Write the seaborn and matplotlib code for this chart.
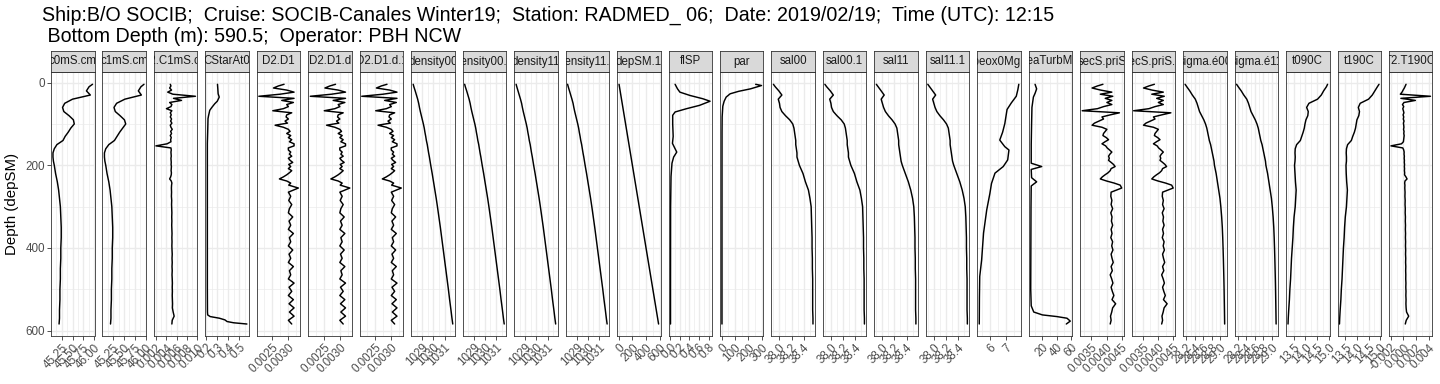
import matplotlib
matplotlib.use("Agg")
import matplotlib.pyplot as plt
import matplotlib.ticker as mticker
import seaborn as sns
import pandas as pd

sns.set_theme(style="white")
plt.rcParams['font.family'] = ['Liberation Sans', 'DejaVu Sans']

# ---------------- data ----------------
depth_s = [4, 10, 20, 30, 40, 50, 60, 70, 80, 90, 100, 110, 120, 130, 140, 150, 160, 170, 180, 190,
           200, 220, 240, 260, 280, 300, 325, 350, 375, 400, 425, 450, 475, 500, 525, 550, 570, 584]

depth_n = [4, 8, 13, 18, 23, 28, 33, 38, 43, 48,
           53, 58, 63, 68, 73, 78, 83, 88, 93, 98,
           103, 108, 113, 118, 123, 128, 133, 138, 143, 148,
           153, 158, 163, 168, 173, 178, 183, 188, 193, 198,
           203, 208, 213, 218, 223, 228, 233, 238, 243, 248,
           255, 265, 275, 285, 295, 305, 315, 325, 335, 345,
           355, 365, 375, 385, 395, 405, 415, 425, 435, 445,
           455, 465, 475, 485, 495, 505, 515, 525, 535, 545,
           555, 565, 575, 584]

c0mS = [45.96, 45.88, 45.82, 45.91, 45.50, 45.32, 45.27, 45.30, 45.42, 45.52,
        45.54, 45.46, 45.40, 45.33, 45.28, 45.14, 45.08, 45.05, 45.05, 45.06,
        45.08, 45.11, 45.15, 45.18, 45.20, 45.22, 45.23, 45.24, 45.24, 45.23,
        45.23, 45.22, 45.22, 45.21, 45.21, 45.20, 45.20, 45.19]
c1mS = [45.96, 45.89, 45.83, 45.90, 45.52, 45.33, 45.27, 45.30, 45.41, 45.51,
        45.54, 45.47, 45.40, 45.34, 45.28, 45.15, 45.08, 45.05, 45.05, 45.06,
        45.08, 45.11, 45.15, 45.18, 45.20, 45.22, 45.23, 45.24, 45.24, 45.23,
        45.23, 45.22, 45.22, 45.21, 45.21, 45.20, 45.20, 45.19]

c2c1 = [0.00478, 0.00491, 0.00466, 0.00503, 0.00429, 0.00528, 0.00965, 0.00540, 0.00695, 0.00466,
        0.00509, 0.00491, 0.00404, 0.00509, 0.00478, 0.00497, 0.00478, 0.00503, 0.00485, 0.00509,
        0.00478, 0.00491, 0.00516, 0.00485, 0.00503, 0.00478, 0.00497, 0.00485, 0.00491, 0.00417,
        0.00200, 0.00491, 0.00497, 0.00491, 0.00494, 0.00497, 0.00491, 0.00494, 0.00497, 0.00494,
        0.00500, 0.00497, 0.00494, 0.00500, 0.00497, 0.00485, 0.00466, 0.00497, 0.00509, 0.00503,
        0.00500, 0.00503, 0.00500, 0.00506, 0.00503, 0.00506, 0.00509, 0.00506, 0.00509, 0.00506,
        0.00509, 0.00512, 0.00509, 0.00512, 0.00509, 0.00512, 0.00516, 0.00512, 0.00516, 0.00512,
        0.00516, 0.00512, 0.00516, 0.00519, 0.00516, 0.00519, 0.00516, 0.00519, 0.00522, 0.00519,
        0.00534, 0.00553, 0.00516, 0.00509]

depth_cs = [4, 15, 27, 35, 45, 51, 60, 67, 80, 87, 120, 147, 200, 300, 400, 500,
            555, 562, 566, 570, 574, 578, 581, 584]
cstar = [0.302, 0.305, 0.308, 0.318, 0.300, 0.277, 0.250, 0.231, 0.220, 0.215, 0.212, 0.209,
         0.209, 0.209, 0.209, 0.209, 0.210, 0.212, 0.235, 0.320, 0.370, 0.390, 0.450, 0.572]

d2d1 = [0.002867, 0.002690, 0.002534, 0.002950, 0.003180, 0.002742, 0.002075, 0.003180, 0.002794, 0.003159,
        0.002950, 0.003002, 0.002846, 0.002513, 0.003107, 0.002950, 0.002930, 0.003002, 0.002898, 0.002971,
        0.002586, 0.002846, 0.003002, 0.003055, 0.002950, 0.003075, 0.003002, 0.003107, 0.003034, 0.003180,
        0.003180, 0.003000, 0.003002, 0.003075, 0.003034, 0.003107, 0.003002, 0.003055, 0.003138, 0.003013,
        0.003075, 0.003002, 0.003107, 0.003034, 0.002950, 0.002846, 0.002721, 0.002950, 0.003075, 0.003013,
        0.003315, 0.003002, 0.003075, 0.003013, 0.003107, 0.003034, 0.003002, 0.003138, 0.003023, 0.003075,
        0.003002, 0.003159, 0.003034, 0.003075, 0.003002, 0.003138, 0.003023, 0.003075, 0.003002, 0.003159,
        0.003034, 0.003075, 0.003002, 0.003180, 0.003023, 0.003107, 0.003002, 0.003159, 0.003023, 0.003180,
        0.003034, 0.003180, 0.003002, 0.003107]

density00 = [1028.19, 1028.25, 1028.37, 1028.48, 1028.59, 1028.68, 1028.75, 1028.83, 1028.92, 1029.01,
             1029.10, 1029.18, 1029.24, 1029.31, 1029.37, 1029.45, 1029.51, 1029.57, 1029.64, 1029.70,
             1029.76, 1029.89, 1030.01, 1030.13, 1030.25, 1030.36, 1030.49, 1030.62, 1030.74, 1030.86,
             1030.98, 1031.10, 1031.22, 1031.34, 1031.45, 1031.57, 1031.66, 1031.73]
density11 = [1028.19, 1028.25, 1028.36, 1028.47, 1028.58, 1028.68, 1028.75, 1028.83, 1028.92, 1029.01,
             1029.10, 1029.18, 1029.24, 1029.31, 1029.37, 1029.45, 1029.51, 1029.57, 1029.64, 1029.70,
             1029.76, 1029.89, 1030.01, 1030.13, 1030.25, 1030.36, 1030.49, 1030.62, 1030.74, 1030.86,
             1030.98, 1031.10, 1031.22, 1031.34, 1031.45, 1031.57, 1031.66, 1031.73]

depsm = [4, 10, 20, 30, 40, 50, 60, 70, 80, 90, 100, 110, 120, 130, 140, 150, 160, 170, 180, 190,
         200, 220, 240, 260, 280, 300, 325, 350, 375, 400, 425, 450, 475, 500, 525, 550, 570, 584]

depth_fl = [4, 15, 23, 31, 39, 45, 55, 63, 71, 79, 100, 130, 147, 160, 168, 180, 195, 227, 300, 400, 500, 584]
flsp = [0.10, 0.15, 0.20, 0.41, 0.68, 0.83, 0.61, 0.34, 0.10, 0.05,
        0.05, 0.06, 0.045, 0.10, 0.135, 0.07, 0.035, 0.015, 0.006, 0.005, 0.004, 0.004]

depth_par = [4, 7, 15, 21, 27, 35, 45, 57, 83, 120, 200, 300, 400, 500, 584]
par = [254, 298, 216, 127, 63, 33, 18, 8, 3, 2, 1.8, 1.7, 1.6, 1.6, 1.6]

sal00 = [37.90, 37.93, 37.99, 38.04, 37.98, 38.00, 38.01, 38.04, 38.10, 38.17,
         38.22, 38.24, 38.25, 38.26, 38.27, 38.27, 38.28, 38.29, 38.29, 38.31,
         38.33, 38.39, 38.43, 38.48, 38.505, 38.525, 38.53, 38.535, 38.54, 38.54,
         38.545, 38.545, 38.55, 38.55, 38.55, 38.55, 38.555, 38.555]
sal11 = [37.90, 37.93, 37.98, 38.03, 37.98, 38.00, 38.02, 38.05, 38.10, 38.16,
         38.21, 38.24, 38.25, 38.26, 38.27, 38.27, 38.28, 38.29, 38.30, 38.31,
         38.33, 38.38, 38.43, 38.47, 38.50, 38.52, 38.53, 38.535, 38.54, 38.54,
         38.545, 38.545, 38.55, 38.55, 38.55, 38.55, 38.555, 38.555]

depth_ox = [4, 17, 33, 49, 65, 99, 120, 139, 155, 163, 187, 203, 219, 244, 268, 308, 364, 429, 469, 520, 584]
sbeox = [7.82, 7.76, 7.66, 7.35, 7.08, 6.94, 6.80, 6.62, 6.94, 7.20, 7.12,
         6.84, 6.32, 6.10, 6.00, 5.80, 5.60, 5.48, 5.36, 5.34, 5.33]

depth_tb = [4, 15, 25, 35, 60, 100, 150, 195, 203, 210, 230, 240, 250, 300, 400, 500,
            540, 555, 562, 566, 570, 577, 584]
turb = [9.8, 12.0, 10.0, 7.5, 5.5, 5.0, 4.5, 4.5, 19.0, 4.5, 5.0, 12.0, 4.5, 4.2, 4.0, 3.8,
        4.5, 8.0, 20.0, 40.0, 54.0, 58.5, 53.0]

secs = [0.003880, 0.003700, 0.003521, 0.003800, 0.004174, 0.003793, 0.004206, 0.003956, 0.004174, 0.004011,
        0.004174, 0.003902, 0.003700, 0.003195, 0.004424, 0.004120, 0.003848, 0.003900, 0.003750, 0.003600,
        0.003521, 0.003850, 0.004011, 0.003956, 0.003900, 0.003880, 0.003990, 0.004065, 0.003950, 0.003848,
        0.003970, 0.004020, 0.004100, 0.004174, 0.004110, 0.004065, 0.004090, 0.004065, 0.004150, 0.004230,
        0.004282, 0.004150, 0.004119, 0.004050, 0.003950, 0.003860, 0.003793, 0.004000, 0.004250, 0.004450,
        0.004500, 0.004150, 0.004140, 0.004175, 0.004150, 0.004200, 0.004140, 0.004180, 0.004160, 0.004200,
        0.004150, 0.004180, 0.004140, 0.004200, 0.004170, 0.004210, 0.004150, 0.004180, 0.004220, 0.004150,
        0.004190, 0.004120, 0.004170, 0.004210, 0.004150, 0.004190, 0.004240, 0.004180, 0.004300, 0.004200,
        0.004170, 0.004130, 0.004150, 0.004120]

sigma00 = [28.17, 28.21, 28.28, 28.34, 28.41, 28.45, 28.48, 28.51, 28.56, 28.61,
           28.65, 28.68, 28.70, 28.72, 28.74, 28.77, 28.79, 28.81, 28.83, 28.85,
           28.86, 28.90, 28.93, 28.96, 28.99, 29.01, 29.03, 29.045, 29.055, 29.063,
           29.07, 29.076, 29.082, 29.087, 29.091, 29.095, 29.098, 29.10]

t090 = [14.95, 14.90, 14.78, 14.68, 14.52, 14.15, 14.05, 14.12, 14.10, 14.02,
        13.98, 13.95, 13.90, 13.84, 13.78, 13.62, 13.56, 13.55, 13.56, 13.55,
        13.53, 13.55, 13.57, 13.60, 13.58, 13.56, 13.51, 13.48, 13.46, 13.43,
        13.40, 13.38, 13.36, 13.33, 13.31, 13.28, 13.26, 13.25]
t190 = [14.95, 14.88, 14.77, 14.66, 14.50, 14.14, 14.06, 14.11, 14.08, 14.00,
        13.97, 13.94, 13.89, 13.82, 13.76, 13.60, 13.55, 13.54, 13.55, 13.55,
        13.53, 13.54, 13.56, 13.59, 13.57, 13.55, 13.50, 13.47, 13.45, 13.42,
        13.40, 13.38, 13.36, 13.33, 13.31, 13.28, 13.26, 13.25]

t2t1 = [0.00042, 0.00030, 0.00015, -0.00005, -0.00022, -0.00049, 0.00430, -0.00040, 0.00190, 0.00010,
        -0.00015, 0.00005, -0.00010, 0.00000, 0.00008, -0.00005, 0.00005, -0.00002, 0.00010, 0.00000,
        0.00005, 0.00008, 0.00002, 0.00010, 0.00006, 0.00012, 0.00008, 0.00004, 0.00000, -0.00030,
        -0.00198, -0.00010, 0.00005, 0.00012, 0.00010, 0.00015, 0.00012, 0.00016, 0.00014, 0.00018,
        0.00015, 0.00018, 0.00016, 0.00020, 0.00018, 0.00040, 0.00058, 0.00025, 0.00020, 0.00024,
        0.00022, 0.00026, 0.00024, 0.00028, 0.00026, 0.00030, 0.00028, 0.00032, 0.00030, 0.00033,
        0.00031, 0.00034, 0.00032, 0.00035, 0.00033, 0.00036, 0.00034, 0.00037, 0.00035, 0.00038,
        0.00036, 0.00038, 0.00037, 0.00040, 0.00038, 0.00041, 0.00039, 0.00042, 0.00040, 0.00043,
        0.00050, 0.00084, 0.00045, 0.00030]

# x-axis breaks per panel (as in the reference)
ticks_c = [45.25, 45.50, 45.75, 46.00]
labels_c = ["45.25", "45.50", "45.75", "46.00"]
ticks_c2 = [0.002, 0.004, 0.006, 0.008, 0.010]
labels_c2 = ["0.002", "0.004", "0.006", "0.008", "0.010"]
ticks_cs = [0.2, 0.3, 0.4, 0.5]
labels_cs = ["0.2", "0.3", "0.4", "0.5"]
ticks_d = [0.0025, 0.0030]
labels_d = ["0.0025", "0.0030"]
ticks_den = [1029, 1030, 1031]
labels_den = ["1029", "1030", "1031"]
ticks_dep = [0, 200, 400, 600]
labels_dep = ["0", "200", "400", "600"]
ticks_fl = [0.0, 0.2, 0.4, 0.6, 0.8]
labels_fl = ["0.0", "0.2", "0.4", "0.6", "0.8"]
ticks_par = [0, 100, 200, 300]
labels_par = ["0", "100", "200", "300"]
ticks_sal = [38.0, 38.2, 38.4]
labels_sal = ["38.0", "38.2", "38.4"]
ticks_ox = [6, 7]
labels_ox = ["6", "7"]
ticks_tb = [20, 40, 60]
labels_tb = ["20", "40", "60"]
ticks_sec = [0.0035, 0.0040, 0.0045]
labels_sec = ["0.0035", "0.0040", "0.0045"]
ticks_sig = [28.2, 28.4, 28.6, 28.8, 29.0]
labels_sig = ["28.2", "28.4", "28.6", "28.8", "29.0"]
ticks_t = [13.5, 14.0, 14.5, 15.0]
labels_t = ["13.5", "14.0", "14.5", "15.0"]
ticks_t2 = [-0.002, 0.000, 0.002, 0.004]
labels_t2 = ["-0.002", "0.000", "0.002", "0.004"]

depth_ticks = [0, 200, 400, 600]

panels = [
    ("c0mS.cm", depth_s, c0mS, ticks_c, labels_c),
    ("c1mS.cm", depth_s, c1mS, ticks_c, labels_c),
    ("C2.C1mS.cm", depth_n, c2c1, ticks_c2, labels_c2),
    ("CStarAt0", depth_cs, cstar, ticks_cs, labels_cs),
    ("D2.D1", depth_n, d2d1, ticks_d, labels_d),
    ("D2.D1.d", depth_n, d2d1, ticks_d, labels_d),
    ("D2.D1.d.1", depth_n, d2d1, ticks_d, labels_d),
    ("density00", depth_s, density00, ticks_den, labels_den),
    ("density00.1", depth_s, density00, ticks_den, labels_den),
    ("density11", depth_s, density11, ticks_den, labels_den),
    ("density11.1", depth_s, density11, ticks_den, labels_den),
    ("depSM.1", depth_s, depsm, ticks_dep, labels_dep),
    ("flSP", depth_fl, flsp, ticks_fl, labels_fl),
    ("par", depth_par, par, ticks_par, labels_par),
    ("sal00", depth_s, sal00, ticks_sal, labels_sal),
    ("sal00.1", depth_s, sal00, ticks_sal, labels_sal),
    ("sal11", depth_s, sal11, ticks_sal, labels_sal),
    ("sal11.1", depth_s, sal11, ticks_sal, labels_sal),
    ("sbeox0Mg.L", depth_ox, sbeox, ticks_ox, labels_ox),
    ("seaTurbMtr", depth_tb, turb, ticks_tb, labels_tb),
    ("secS.priS", depth_n, secs, ticks_sec, labels_sec),
    ("secS.priS.1", depth_n, secs, ticks_sec, labels_sec),
    ("sigma.é00", depth_s, sigma00, ticks_sig, labels_sig),
    ("sigma.é11", depth_s, sigma00, ticks_sig, labels_sig),
    ("t090C", depth_s, t090, ticks_t, labels_t),
    ("t190C", depth_s, t190, ticks_t, labels_t),
    ("T2.T190C", depth_n, t2t1, ticks_t2, labels_t2),
]

title = ("Ship:B/O SOCIB;  Cruise: SOCIB-Canales Winter19;  Station: RADMED_ 06;  "
         "Date: 2019/02/19;  Time (UTC): 12:15\n Bottom Depth (m): 590.5;  Operator: PBH NCW")

# ---------------- layout ----------------
W, H = 1440, 384
fig = plt.figure(figsize=(W / 100, H / 100), dpi=100)
fig.patch.set_facecolor("white")
x0, step, pw = 51.0, 51.46, 43.5
ptop, pbot, stop = 72.3, 336.0, 50.7
edge = "#333333"
txt = 8.4
strip_txt = 8.3

axes = []
for i, (name, dep, vals, ticks, labels) in enumerate(panels):
    left = x0 + i * step
    ax = fig.add_axes([left / W, 1 - pbot / H, pw / W, (pbot - ptop) / H],
                      sharey=axes[0] if axes else None)
    df = pd.DataFrame({"value": vals, "depth": dep})
    sns.lineplot(data=df, x="value", y="depth", orient="y", sort=False, estimator=None,
                 color="black", linewidth=1.05, ax=ax)
    ax.set_xlabel("")
    ax.set_ylabel("")
    ax.set_facecolor("white")
    ax.set_xticks(ticks, labels, rotation=45, ha="right", va="top", rotation_mode="anchor")
    ax.xaxis.set_minor_locator(mticker.MultipleLocator((ticks[1] - ticks[0]) / 2))
    ax.yaxis.set_major_locator(mticker.FixedLocator(depth_ticks))
    ax.yaxis.set_minor_locator(mticker.MultipleLocator(100))
    ax.grid(True, which="major", color="#EBEBEB", linewidth=1.0)
    ax.grid(True, which="minor", color="#EBEBEB", linewidth=0.5)
    ax.set_axisbelow(True)
    for s in ax.spines.values():
        s.set_color(edge)
        s.set_linewidth(0.6)
        s.set_visible(True)
    ax.tick_params(axis="x", which="major", bottom=True, length=2.9, width=0.6, color=edge,
                   labelsize=txt, labelcolor="#4D4D4D", pad=1.2)
    ax.tick_params(which="minor", length=0)
    if i == 0:
        ax.tick_params(axis="y", which="major", left=True, labelleft=True, length=2.9, width=0.6,
                       color=edge, labelsize=txt, labelcolor="#4D4D4D", pad=1.5)
    else:
        ax.tick_params(axis="y", which="both", left=False, labelleft=False)
    axes.append(ax)

    sax = fig.add_axes([left / W, 1 - ptop / H, pw / W, (ptop - stop) / H])
    sax.set_facecolor("#D9D9D9")
    sax.set_xticks([])
    sax.set_yticks([])
    for s in sax.spines.values():
        s.set_color(edge)
        s.set_linewidth(0.6)
        s.set_visible(True)
    sax.text(0.5, 0.5, name, ha="center", va="center", fontsize=strip_txt, color="#1A1A1A",
             transform=sax.transAxes, clip_on=True)

axes[0].invert_yaxis()

fig.text(12 / W, 1 - 204 / H, "Depth (depSM)", rotation=90, ha="center", va="center",
         fontsize=10.8, color="black")
fig.text(42 / W, 1 - 6 / H, title, ha="left", va="top", fontsize=14.1, color="black",
         linespacing=1.1)

fig.savefig("out.png", dpi=100, facecolor="white")
